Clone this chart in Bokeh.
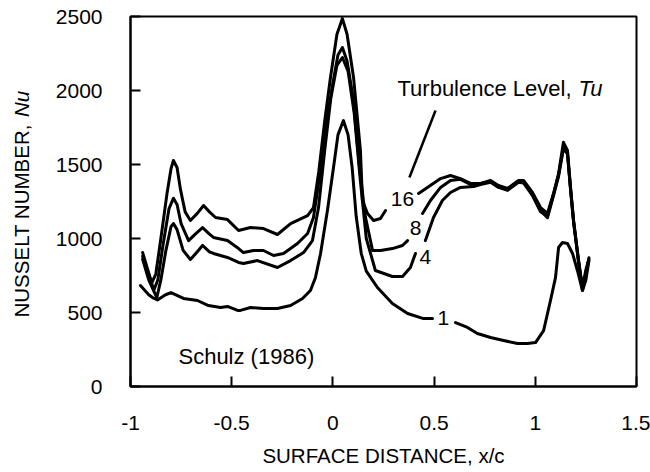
import math
from bokeh.plotting import figure
from bokeh.layouts import row
from bokeh.models import Label, Range1d, FixedTicker
from bokeh.core.properties import value
from bokeh.embed import file_html
from bokeh.resources import INLINE

NaN = float("nan")

# ---- data ----
x16 = [-0.94, -0.915, -0.895, -0.875, -0.85, -0.82, -0.80, -0.788, -0.77, -0.753, -0.73, -0.704, -0.67, -0.639,
       -0.61, -0.58, -0.521, -0.466, -0.407, -0.343, -0.274, -0.209, -0.125, -0.096, -0.07, -0.04, -0.012, 0.02,
       0.047, 0.07, 0.102, 0.136, 0.146, 0.171, 0.201, 0.235, 0.26, NaN,
       0.423, 0.467, 0.532, 0.581, 0.63, 0.68, 0.729, 0.779, 0.818, 0.863, 0.917, 0.942, 0.986, 1.026, 1.06,
       1.09, 1.115, 1.139, 1.159, 1.174, 1.189, 1.213, 1.233, 1.248, 1.263]
y16 = [905, 790, 700, 760, 1000, 1300, 1470, 1527, 1480, 1330, 1180, 1122, 1170, 1223,
       1180, 1142, 1128, 1054, 1074, 1067, 1027, 1101, 1155, 1209, 1450, 1800, 2088, 2380,
       2486, 2380, 2088, 1595, 1257, 1169, 1122, 1135, 1189, NaN,
       1304, 1345, 1405, 1426, 1405, 1372, 1372, 1392, 1358, 1338, 1392, 1392, 1311, 1209, 1169,
       1304, 1439, 1650, 1595, 1345, 1122, 851, 649, 737, 851]

x8 = [-0.94, -0.91, -0.885, -0.865, -0.84, -0.81, -0.788, -0.77, -0.75, -0.713, -0.68, -0.644, -0.61, -0.59,
      -0.521, -0.466, -0.442, -0.392, -0.343, -0.293, -0.244, -0.175, -0.125, -0.096, -0.061, -0.03, 0.0, 0.025,
      0.047, 0.07, 0.1, 0.13, 0.16, 0.196, 0.235, 0.294, 0.344, 0.369, NaN,
      0.443, 0.482, 0.532, 0.581, 0.63, 0.68, 0.729, 0.779, 0.818, 0.863, 0.917, 0.942, 0.986, 1.026, 1.06,
      1.09, 1.115, 1.139, 1.159, 1.174, 1.189, 1.213, 1.233, 1.25, 1.265]
y8 = [880, 760, 650, 720, 950, 1200, 1272, 1230, 1100, 986, 1030, 1074, 1030, 1007,
      986, 932, 905, 919, 919, 885, 899, 966, 1034, 1142, 1459, 1800, 2050, 2240,
      2290, 2200, 1950, 1500, 1150, 919, 919, 932, 953, 986, NaN,
      1169, 1257, 1345, 1392, 1400, 1365, 1370, 1385, 1350, 1330, 1385, 1380, 1300, 1190, 1140,
      1290, 1420, 1610, 1570, 1330, 1110, 850, 660, 760, 870]

x4 = [-0.94, -0.91, -0.87, -0.85, -0.825, -0.80, -0.788, -0.77, -0.74, -0.704, -0.67, -0.644, -0.61, -0.59,
      -0.521, -0.466, -0.442, -0.373, -0.274, -0.209, -0.145, -0.101, -0.071, -0.04, -0.01, 0.02, 0.047, 0.075,
      0.105, 0.135, 0.165, 0.21, 0.294, 0.344, 0.383, 0.408, NaN,
      0.457, 0.497, 0.541, 0.581, 0.63, 0.695, 0.729, 0.779, 0.818, 0.863, 0.917, 0.942, 0.986, 1.026, 1.06,
      1.09, 1.115, 1.139, 1.159, 1.174, 1.189, 1.213, 1.233, 1.25, 1.265]
y4 = [860, 720, 600, 720, 920, 1080, 1101, 1060, 920, 858, 910, 953, 910, 899,
      872, 838, 831, 851, 804, 851, 905, 986, 1209, 1600, 1950, 2170, 2223, 2130,
      1850, 1400, 1000, 784, 743, 743, 804, 899, NaN,
      986, 1142, 1257, 1311, 1345, 1351, 1365, 1380, 1345, 1325, 1380, 1375, 1290, 1180, 1150,
      1300, 1430, 1615, 1575, 1340, 1120, 860, 670, 790, 860]

x1 = [-0.951, -0.91, -0.891, -0.867, -0.827, -0.80, -0.738, -0.669, -0.615, -0.555, -0.521, -0.471, -0.457,
      -0.407, -0.343, -0.274, -0.209, -0.15, -0.111, -0.086, -0.061, -0.027, 0.003, 0.025, 0.052, 0.075,
      0.095, 0.115, 0.14, 0.165, 0.22, 0.294, 0.369, 0.448, 0.492, NaN,
      0.606, 0.665, 0.714, 0.779, 0.843, 0.912, 0.961, 1.001, 1.041, 1.075, 1.1, 1.115, 1.134, 1.159, 1.184,
      1.208, 1.233, 1.25, 1.265]
y1 = [682, 620, 601, 585, 620, 635, 595, 581, 547, 534, 541, 514, 514,
      534, 527, 527, 547, 595, 649, 737, 899, 1189, 1480, 1700, 1797, 1700,
      1480, 1150, 900, 780, 669, 561, 493, 459, 459, NaN,
      432, 399, 358, 331, 311, 291, 291, 297, 378, 581, 737, 939, 973, 966, 899,
      784, 649, 720, 850]

curve_labels = ["16", "8", "4", "1"]
label_x = [0.344, 0.408, 0.457, 0.546]
label_y = [1270, 1068, 872, 460]

leader_x = [0.507, 0.378]
leader_y = [1865, 1412]

x_ticks = [-1, -0.5, 0, 0.5, 1, 1.5]
x_tick_labels = {-1: "-1", -0.5: "-0.5", 0: "0", 0.5: "0.5", 1: "1", 1.5: "1.5"}
y_ticks = [0, 500, 1000, 1500, 2000, 2500]

FONT = "Liberation Sans"
X0, X1, Y0, Y1 = -1.0, 1.5, 0.0, 2500.0
FRAME_W, FRAME_H = 506, 370
TITLE_W = 40
H = 472
px_x = FRAME_W / (X1 - X0)
px_y = FRAME_H / (Y1 - Y0)

# ---- narrow panel holding the rotated y-axis title (its frame aligns with the main frame) ----
t = figure(width=TITLE_W, height=H, output_backend="svg", toolbar_location=None,
           x_range=Range1d(0, TITLE_W), y_range=Range1d(Y0, Y1),
           min_border_left=0, min_border_right=0, min_border_top=16, min_border_bottom=86)
t.axis.visible = False
t.xgrid.visible = False
t.ygrid.visible = False
t.outline_line_color = None
t.background_fill_color = "white"
t.border_fill_color = "white"
yt_size = 20.5
yt_x = 21
yt_y0 = (386 - 317) / px_y
w_main = 9.779 * yt_size
t.text(x=[yt_x], y=[yt_y0], text=["NUSSELT NUMBER, "], angle=math.pi / 2, text_font=value(FONT),
       text_font_size=f"{yt_size}px", text_align="left", text_baseline="middle", text_color="black")
t.text(x=[yt_x], y=[yt_y0 + w_main / px_y], text=["Nu"], angle=math.pi / 2, text_font=value(FONT),
       text_font_size=f"{yt_size}px", text_font_style="italic", text_align="left", text_baseline="middle",
       text_color="black")

# ---- main chart ----
p = figure(width=650 - TITLE_W, height=H, output_backend="svg", toolbar_location=None,
           x_range=Range1d(X0, X1), y_range=Range1d(Y0, Y1),
           min_border_left=130 - TITLE_W, min_border_right=14, min_border_top=16, min_border_bottom=86)
p.background_fill_color = "white"
p.border_fill_color = "white"
p.xgrid.visible = False
p.ygrid.visible = False
p.outline_line_color = "black"
p.outline_line_width = 2

for ax in (p.xaxis[0], p.yaxis[0]):
    ax.axis_line_width = 2
    ax.axis_line_color = "black"
    ax.major_tick_in = 10
    ax.major_tick_out = 0
    ax.major_tick_line_width = 2
    ax.major_tick_line_color = "black"
    ax.minor_tick_line_color = None
    ax.major_label_text_font = FONT
    ax.major_label_text_font_size = "21px"
    ax.major_label_text_color = "black"

p.xaxis.ticker = FixedTicker(ticks=x_ticks)
p.xaxis.major_label_overrides = x_tick_labels
p.yaxis.ticker = FixedTicker(ticks=y_ticks)
p.xaxis.major_label_standoff = 29
p.yaxis.major_label_standoff = 28
p.xaxis.axis_label = "SURFACE DISTANCE, x/c"
p.xaxis.axis_label_text_font = FONT
p.xaxis.axis_label_text_font_size = "20.5px"
p.xaxis.axis_label_text_font_style = "normal"
p.xaxis.axis_label_text_color = "black"
p.xaxis.axis_label_standoff = 11

for xs, ys in ((x16, y16), (x8, y8), (x4, y4), (x1, y1)):
    p.line(xs, ys, line_color="black", line_width=3, line_join="round", line_cap="round")

p.line(leader_x, leader_y, line_color="black", line_width=2.5)

p.text(x=label_x, y=label_y, text=curve_labels, text_font=value(FONT), text_font_size="21px",
       text_align="center", text_baseline="middle", text_color="black")

tl_size = 22
tl_x, tl_y = 0.319, 2014
p.add_layout(Label(x=tl_x, y=tl_y, text="Turbulence Level, ", text_font=FONT, text_font_size=f"{tl_size}px",
                   text_baseline="middle", text_align="left", text_color="black"))
w1 = 8.226 * tl_size
p.add_layout(Label(x=tl_x + w1 / px_x, y=tl_y, text="Tu", text_font=FONT, text_font_size=f"{tl_size}px",
                   text_font_style="italic", text_baseline="middle", text_align="left", text_color="black"))

p.add_layout(Label(x=-0.763, y=203, text="Schulz (1986)", text_font=FONT, text_font_size=f"{tl_size}px",
                   text_baseline="middle", text_align="left", text_color="black"))

layout = row(t, p, spacing=0)
open("out.html", "w").write(file_html(layout, INLINE))
